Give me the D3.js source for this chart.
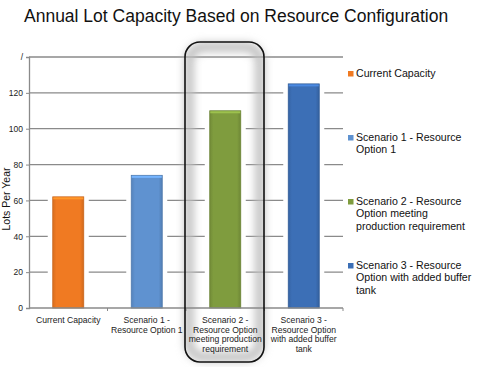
<!DOCTYPE html>
<html lang="en">
<head>
  <meta charset="UTF-8">
  <title>Annual Lot Capacity Based on Resource Configuration</title>
  <script src="https://d3js.org/d3.v7.min.js"></script>
  <style>
    body { margin: 0; background: #fff; }
    text { font-family: "Liberation Sans", Arial, sans-serif; }
  </style>
</head>
<body>
  <div id="chart"></div>
  <script>
    // data
    const categories = ["Current Capacity", "Scenario 1 - Resource Option 1",
      "Scenario 2 - Resource Option meeting production requirement",
      "Scenario 3 - Resource Option with added buffer tank"];
    const values = [62, 74, 110, 125];
    const colors = ["#f07a22", "#5f92d0", "#7f9c3e", "#3c6fb6"];
    const axisLabelLines = [
      ["Current Capacity"],
      ["Scenario 1 -", "Resource Option 1"],
      ["Scenario 2 -", "Resource Option", "meeting production", "requirement"],
      ["Scenario 3 -", "Resource Option", "with added buffer", "tank"]];
    const legendLines = [
      ["Current Capacity"],
      ["Scenario 1 - Resource", "Option 1"],
      ["Scenario 2 - Resource", "Option meeting", "production requirement"],
      ["Scenario 3 - Resource", "Option with added buffer", "tank"]];
    const yTicks = [0, 20, 40, 60, 80, 100, 120, 140];
    const yTickLabels = ["0", "20", "40", "60", "80", "100", "120", "/"];

    const W = 492, H = 367;
    const margin = { top: 57, right: 149, bottom: 59, left: 29 };
    const width = W - margin.left - margin.right,
      height = H - margin.top - margin.bottom;

    const svg = d3.select("#chart").append("svg")
      .attr("width", W).attr("height", H);

    const defs = svg.append("defs");
    defs.append("filter").attr("id", "blur")
      .attr("x", "-20%").attr("y", "-20%").attr("width", "140%").attr("height", "140%")
      .append("feGaussianBlur").attr("stdDeviation", 4);

    colors.forEach((c, i) => {
      const g = defs.append("linearGradient").attr("id", "grad" + i)
        .attr("x1", 0).attr("x2", 1).attr("y1", 0).attr("y2", 0);
      g.append("stop").attr("offset", "0%").attr("stop-color", d3.color(c).darker(0.3));
      g.append("stop").attr("offset", "12%").attr("stop-color", c);
      g.append("stop").attr("offset", "88%").attr("stop-color", c);
      g.append("stop").attr("offset", "100%").attr("stop-color", d3.color(c).darker(0.4));
    });

    // title
    svg.append("text")
      .attr("x", 24).attr("y", 22)
      .attr("font-size", 17.5)
      .attr("fill", "#111")
      .text("Annual Lot Capacity Based on Resource Configuration");

    const chart = svg.append("g")
      .attr("transform", `translate(${margin.left},${margin.top})`);

    const x = d3.scaleBand().domain(categories).range([0, width]).paddingInner(0).paddingOuter(0);
    const y = d3.scaleLinear().domain([0, 140]).range([height, 0]);
    const barW = 31;

    // gridlines
    chart.append("g").selectAll("line")
      .data(yTicks.filter(d => d > 0))
      .join("line")
      .attr("x1", 0).attr("x2", width)
      .attr("y1", d => y(d)).attr("y2", d => y(d))
      .attr("stroke", "#8a8a8a").attr("stroke-width", 1.3);

    // highlight box shadow (behind bars)
    const boxX = 185 - margin.left, boxY = 42 - margin.top;
    const boxW = 79, boxH = 320;
    chart.append("rect")
      .attr("x", boxX + 4).attr("y", boxY + 5)
      .attr("width", boxW - 8).attr("height", boxH - 10)
      .attr("rx", 14)
      .attr("fill", "none").attr("stroke", "#bdbdbd").attr("stroke-width", 9)
      .attr("filter", "url(#blur)");

    // bars with white halo that cuts the gridlines
    const barG = chart.append("g");
    barG.selectAll("rect.halo")
      .data(values)
      .join("rect")
      .attr("class", "halo")
      .attr("x", (d, i) => x(categories[i]) + x.bandwidth() / 2 - barW / 2 - 5)
      .attr("y", d => y(d) - 2)
      .attr("width", barW + 10)
      .attr("height", d => height - y(d) + 2)
      .attr("fill", "#fff");
    barG.selectAll("rect.bar")
      .data(values)
      .join("rect")
      .attr("class", "bar")
      .attr("x", (d, i) => x(categories[i]) + x.bandwidth() / 2 - barW / 2)
      .attr("y", d => y(d))
      .attr("width", barW)
      .attr("height", d => height - y(d))
      .attr("fill", (d, i) => `url(#grad${i})`)
      .attr("stroke", (d, i) => d3.color(colors[i]).darker(0.5))
      .attr("stroke-width", 0.8);
    barG.selectAll("rect.cap")
      .data(values)
      .join("rect")
      .attr("class", "cap")
      .attr("x", (d, i) => x(categories[i]) + x.bandwidth() / 2 - barW / 2 + 0.5)
      .attr("y", d => y(d) + 0.5)
      .attr("width", barW - 1)
      .attr("height", 2)
      .attr("fill", (d, i) => d3.color(colors[i]).brighter(0.6));

    // y axis
    const yAxis = chart.append("g")
      .call(d3.axisLeft(y).tickValues(yTicks).tickSize(3).tickPadding(3)
        .tickFormat((d, i) => yTickLabels[i]));
    yAxis.select(".domain").attr("stroke", "#8a8a8a").attr("stroke-width", 1.3);
    yAxis.selectAll(".tick line").attr("stroke", "#8a8a8a");
    yAxis.selectAll("text").attr("font-size", 8.5).attr("fill", "#222")
      .attr("font-family", "Liberation Sans, Arial, sans-serif");

    // x axis
    const xAxis = chart.append("g").attr("transform", `translate(0,${height})`);
    xAxis.append("line").attr("x1", 0).attr("x2", width)
      .attr("stroke", "#8a8a8a").attr("stroke-width", 1.3);
    xAxis.selectAll("line.tk")
      .data(categories.slice(1).concat([null]))
      .join("line")
      .attr("class", "tk")
      .attr("x1", (d, i) => x.step() * (i + 1)).attr("x2", (d, i) => x.step() * (i + 1))
      .attr("y1", 0).attr("y2", 3)
      .attr("stroke", "#8a8a8a");
    xAxis.selectAll("text.xl")
      .data(axisLabelLines)
      .join("text")
      .attr("class", "xl")
      .attr("text-anchor", "middle")
      .attr("font-size", 8.6)
      .attr("fill", "#222")
      .attr("transform", (d, i) => `translate(${x(categories[i]) + x.bandwidth() / 2},15)`)
      .selectAll("tspan")
      .data(d => d)
      .join("tspan")
      .attr("x", 0)
      .attr("y", (d, j) => j * 9.6)
      .text(d => d);

    // highlight box outline
    chart.append("rect")
      .attr("x", boxX).attr("y", boxY)
      .attr("width", boxW).attr("height", boxH)
      .attr("rx", 15)
      .attr("fill", "none").attr("stroke", "#111").attr("stroke-width", 1.6);

    // y axis title
    svg.append("text")
      .attr("transform", "translate(10,199) rotate(-90)")
      .attr("text-anchor", "middle")
      .attr("font-size", 10.5)
      .attr("fill", "#111")
      .text("Lots Per Year");

    // legend
    const legendY = [77, 141, 205, 269];
    const legend = svg.append("g").selectAll("g")
      .data(legendLines)
      .join("g")
      .attr("transform", (d, i) => `translate(348,${legendY[i]})`);
    legend.append("rect")
      .attr("x", 0).attr("y", -6).attr("width", 5.5).attr("height", 5.5)
      .attr("fill", (d, i) => colors[i]);
    legend.append("text")
      .attr("font-size", 10.6)
      .attr("fill", "#111")
      .selectAll("tspan")
      .data(d => d)
      .join("tspan")
      .attr("x", 8)
      .attr("y", (d, j) => j * 12.3)
      .text(d => d);
  </script>
</body>
</html>
